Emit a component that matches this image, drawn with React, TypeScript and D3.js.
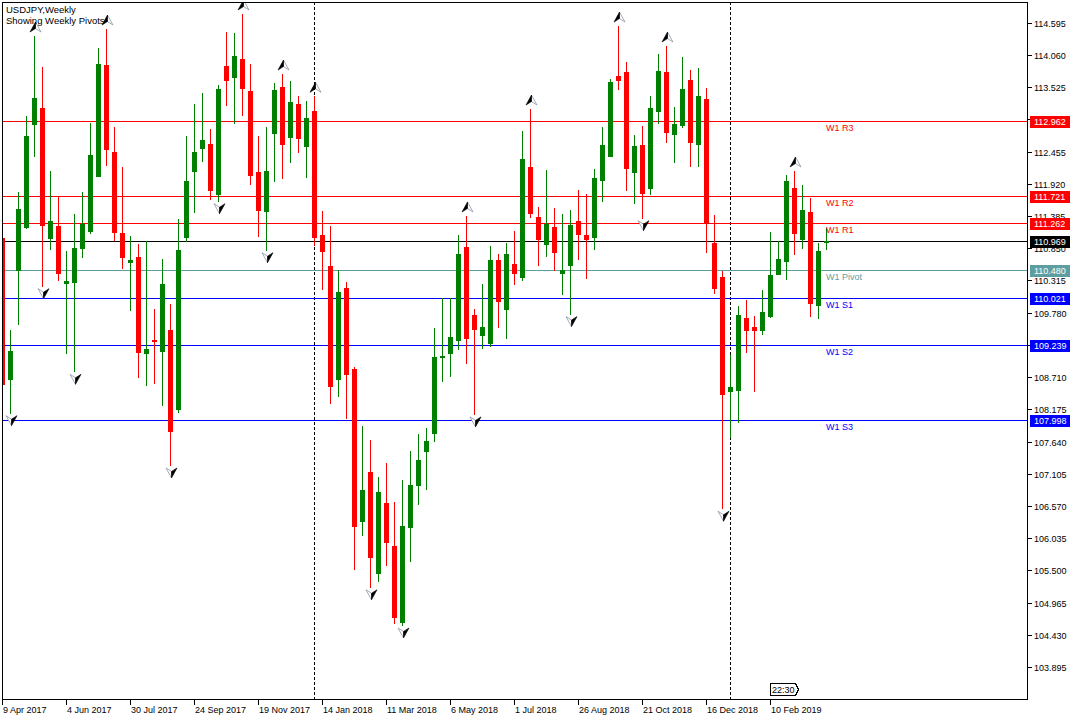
import * as d3 from "d3";

// USDJPY weekly bars, first bar = week of 9 Apr 2017
const opens = [
  111.020, 108.683, 110.488, 111.202, 112.917, 113.178, 111.024, 111.219, 110.272, 110.294,
  110.858, 111.141, 112.054, 113.892, 112.447, 111.102, 110.616, 110.704, 109.115, 109.326,
  109.148, 109.492, 108.185, 111.041, 112.137, 112.519, 112.580, 111.755, 113.875, 113.698,
  113.991, 113.460, 112.115, 111.473, 112.768, 113.527, 112.701, 113.244, 112.552, 113.136,
  111.073, 110.558, 108.683, 110.189, 108.843, 106.327, 107.134, 105.464, 106.620, 105.907,
  104.637, 106.213, 106.925, 107.476, 107.782, 109.044, 109.103, 109.333, 110.870, 109.744,
  109.414, 109.281, 110.659, 109.834, 110.589, 110.374, 112.197, 111.371, 110.913, 111.199,
  110.438, 110.565, 111.302, 111.073, 111.041, 111.982, 112.386, 113.709, 113.776, 112.115,
  112.564, 111.855, 113.133, 113.776, 112.751, 112.901, 113.643, 112.585, 113.327, 110.936,
  110.372, 108.474, 108.501, 109.691, 109.542, 109.497, 109.729, 110.427, 110.638, 111.850,
  111.008, 111.451, 109.912, 110.945,
];
const highs = [
  111.053, 109.492, 111.778, 113.045, 114.373, 113.859, 112.132, 111.722, 110.804, 111.418,
  111.778, 112.929, 114.174, 114.489, 112.862, 112.198, 111.053, 110.920, 110.965, 109.841,
  110.676, 109.924, 111.335, 112.713, 113.244, 113.427, 112.829, 113.560, 114.440, 114.423,
  114.739, 113.908, 112.713, 112.862, 113.593, 113.742, 113.626, 113.377, 113.294, 113.372,
  111.468, 111.225, 110.488, 110.291, 108.881, 107.903, 107.667, 107.051, 107.287, 106.638,
  107.002, 107.483, 107.769, 107.858, 109.529, 110.018, 110.018, 111.073, 111.385, 109.834,
  110.259, 110.882, 110.754, 110.938, 111.129, 112.799, 113.161, 111.536, 112.152, 111.518,
  111.421, 111.484, 111.816, 111.752, 112.165, 112.862, 113.659, 114.539, 113.942, 112.730,
  112.879, 113.377, 114.074, 114.207, 113.195, 114.025, 113.809, 113.842, 113.510, 111.401,
  110.477, 109.077, 109.890, 109.990, 109.729, 110.161, 111.119, 110.965, 112.066, 112.132,
  111.899, 111.684, 110.939, 111.186,
];
const lows = [
  108.562, 108.119, 109.587, 111.186, 112.386, 110.228, 110.842, 110.317, 109.105, 108.806,
  110.709, 111.107, 112.041, 112.236, 110.991, 110.526, 109.829, 108.717, 108.584, 108.617,
  108.247, 107.251, 108.126, 110.975, 111.456, 112.298, 111.667, 111.639, 113.233, 112.934,
  113.067, 111.921, 111.058, 110.825, 111.971, 112.021, 112.286, 112.452, 112.037, 110.895,
  110.176, 108.272, 108.398, 108.036, 105.527, 106.080, 105.228, 105.325, 105.590, 104.626,
  104.594, 105.657, 106.595, 106.860, 107.642, 108.640, 108.735, 109.180, 108.937, 108.099,
  109.198, 109.223, 109.542, 109.351, 110.259, 110.322, 111.371, 110.576, 110.722, 110.488,
  110.095, 109.764, 110.671, 110.360, 110.829, 111.634, 112.373, 113.498, 111.821, 111.606,
  111.357, 111.755, 112.934, 112.618, 112.286, 112.867, 112.220, 112.220, 110.792, 110.106,
  106.532, 107.720, 107.970, 109.132, 108.484, 109.431, 109.716, 110.414, 110.344, 110.759,
  110.858, 109.729, 109.698, 110.842,
];
const closes = [
  108.595, 109.143, 111.501, 112.713, 113.344, 111.240, 111.302, 110.443, 110.306, 110.853,
  111.257, 112.397, 113.908, 112.502, 111.124, 110.709, 110.654, 109.132, 109.177, 109.309,
  110.256, 107.820, 110.820, 111.966, 112.447, 112.647, 111.816, 113.493, 113.648, 114.041,
  113.515, 112.071, 111.489, 112.132, 113.477, 112.585, 113.278, 112.685, 113.012, 111.041,
  110.799, 108.569, 110.126, 108.766, 106.245, 106.836, 105.718, 106.804, 105.979, 104.720,
  106.238, 106.925, 107.337, 107.649, 109.045, 109.060, 109.382, 110.760, 109.364, 109.515,
  109.542, 110.659, 109.974, 110.754, 110.443, 112.323, 111.428, 110.996, 111.250, 110.792,
  110.482, 111.230, 111.079, 111.008, 112.016, 112.564, 113.610, 113.648, 112.187, 112.547,
  111.772, 113.178, 113.792, 112.784, 112.912, 113.493, 112.618, 113.377, 111.290, 110.189,
  108.434, 108.546, 109.741, 109.497, 109.497, 109.791, 110.405, 110.676, 111.966, 111.107,
  111.484, 109.945, 110.803, 110.969,
];

// bill williams fractals (bar indexes)
const upFractals = [4, 13, 30, 35, 39, 58, 66, 77, 83, 99];
const downFractals = [1, 5, 9, 21, 27, 33, 46, 50, 59, 71, 80, 90];

// year separators (first bar of 2018 and 2019)
const separators = [39, 91];

const dateTickBars = [0, 8, 16, 24, 32, 40, 48, 56, 64, 72, 80, 88, 96];
const dateTickLabels = [
  "9 Apr 2017", "4 Jun 2017", "30 Jul 2017", "24 Sep 2017", "19 Nov 2017", "14 Jan 2018",
  "11 Mar 2018", "6 May 2018", "1 Jul 2018", "26 Aug 2018", "21 Oct 2018", "16 Dec 2018", "10 Feb 2019",
];

const priceTicks = [
  114.595, 114.060, 113.525, 112.990, 112.455, 111.920, 111.385, 110.850, 110.315, 109.780,
  109.245, 108.710, 108.175, 107.640, 107.105, 106.570, 106.035, 105.500, 104.965, 104.430, 103.895,
];

const pivotNames = ["W1 R3", "W1 R2", "W1 R1", "W1 Pivot", "W1 S1", "W1 S2", "W1 S3"];
const pivotLevels = [112.962, 111.721, 111.262, 110.480, 110.021, 109.239, 107.998];
const pivotColors = ["#ff0000", "#ff0000", "#ff0000", "#5f9ea0", "#0000ff", "#0000ff", "#0000ff"];

const lastPrice = 110.969;
const BULL = "#008000";
const BEAR = "#ff0000";
const FONT = "'Liberation Sans', Arial, sans-serif";

export default function App() {
  const W = 1080, H = 720;
  const L = 2, T = 2, R = 1027, B = 699;

  const x = d3.scaleLinear().domain([0, 1]).range([2, 10]); // 8px per bar
  const y = d3.scaleLinear().domain([103.365, 114.938]).range([B, T]);
  const py = (p: number) => Math.round(y(p));
  const fmt = d3.format(".3f");
  const lastIdx = closes.length - 1;

  // grid labels that sit right under a price box are not drawn (hidden in terminal)
  const boxed = [...pivotLevels, lastPrice];
  const shownTicks = priceTicks.filter((v) => !boxed.some((p) => Math.abs(py(p) - py(v)) < 4));

  const arrowUp = (cx: number, top: number) => ({
    dark: `M${cx},${top} L${cx - 5.5},${top + 10} L${cx},${top + 6.5} Z`,
    light: `M${cx},${top} L${cx},${top + 6.5} L${cx + 5.5},${top + 10} Z`,
  });
  const arrowDown = (cx: number, bot: number) => ({
    dark: `M${cx},${bot} L${cx + 5.5},${bot - 10} L${cx},${bot - 6.5} Z`,
    light: `M${cx},${bot} L${cx},${bot - 6.5} L${cx - 5.5},${bot - 10} Z`,
  });

  return (
    <svg
      width={W}
      height={H}
      style={{ position: "absolute", left: 0, top: 0, background: "#fff" }}
      fontFamily={FONT}
    >
      <defs>
        <clipPath id="plot">
          <rect x={L + 1} y={T + 1} width={R - L - 1} height={B - T - 1} />
        </clipPath>
      </defs>
      <rect width={W} height={H} fill="#fff" />

      <g clipPath="url(#plot)" shapeRendering="crispEdges">
        {separators.map((i) => (
          <line key={i} x1={x(i) + 0.5} x2={x(i) + 0.5} y1={T} y2={B} stroke="#000" strokeDasharray="3,2" />
        ))}

        {pivotLevels.map((p, k) => (
          <rect key={k} x={L} y={py(p)} width={R - L} height={1} fill={pivotColors[k]} />
        ))}
        <rect x={L} y={py(lastPrice)} width={R - L} height={1} fill="#000" />

        {closes.map((c, i) => {
          const o = opens[i];
          const col = c >= o ? BULL : BEAR;
          const cx = x(i);
          const top = py(Math.max(o, c));
          const bot = py(Math.min(o, c));
          return (
            <g key={i} fill={col}>
              <rect x={cx} y={py(highs[i])} width={1} height={py(lows[i]) - py(highs[i]) + 1} />
              <rect x={cx - 2} y={top} width={5} height={Math.max(1, bot - top + 1)} />
            </g>
          );
        })}
      </g>

      <g clipPath="url(#plot)">
        {upFractals.map((i) => {
          const a = arrowUp(x(i) + 1.5, y(highs[i]) - 14);
          return (
            <g key={"u" + i}>
              <path d={a.light} fill="#fff" stroke="#8a96a8" strokeWidth={0.8} />
              <path d={a.dark} fill="#000" stroke="#000" strokeWidth={0.6} />
            </g>
          );
        })}
        {downFractals.map((i) => {
          const a = arrowDown(x(i) + 1.5, y(lows[i]) + 13);
          return (
            <g key={"d" + i}>
              <path d={a.light} fill="#fff" stroke="#8a96a8" strokeWidth={0.8} />
              <path d={a.dark} fill="#000" stroke="#000" strokeWidth={0.6} />
            </g>
          );
        })}

        {pivotLevels.map((p, k) => (
          <text key={k} x={x(lastIdx)} y={py(p) + 9.5} fontSize={9} fill={pivotColors[k]}>
            {pivotNames[k]}
          </text>
        ))}
      </g>

      {/* title */}
      <text x={6} y={12.5} fontSize={9.5} fill="#000">USDJPY,Weekly</text>
      <text x={6} y={23.5} fontSize={9.5} fill="#000">Showing Weekly Pivots</text>

      {/* frame */}
      <rect x={L + 0.5} y={T + 0.5} width={R - L} height={B - T} fill="none" stroke="#000" shapeRendering="crispEdges" />

      {/* price axis */}
      {priceTicks.map((v) => (
        <rect key={v} x={R} y={py(v)} width={5} height={1} fill="#000" shapeRendering="crispEdges" />
      ))}
      {shownTicks.map((v) => (
        <text key={v} x={1034} y={py(v) + 3.5} fontSize={9} fill="#000">{fmt(v)}</text>
      ))}

      {pivotLevels.map((p, k) => (
        <g key={"b" + k}>
          <rect x={1030} y={py(p) - 5} width={40} height={12} fill={pivotColors[k]} shapeRendering="crispEdges" />
          <text x={1034} y={py(p) + 4} fontSize={9} fill="#fff">{fmt(p)}</text>
        </g>
      ))}
      <rect x={1030} y={py(lastPrice) - 5} width={40} height={12} fill="#000" shapeRendering="crispEdges" />
      <text x={1034} y={py(lastPrice) + 4} fontSize={9} fill="#fff">{fmt(lastPrice)}</text>

      {/* time axis */}
      {dateTickBars.map((b, k) => (
        <g key={b}>
          <rect x={x(b)} y={B} width={1} height={6} fill="#000" shapeRendering="crispEdges" />
          <text x={x(b) + 1} y={712.5} fontSize={9} fill="#000">{dateTickLabels[k]}</text>
        </g>
      ))}

      {/* time-to-close label */}
      <g>
        <path
          d={`M${x(96) + 0.5},683.5 H${x(96) + 25.5} L${x(96) + 28.5},689.5 L${x(96) + 25.5},695.5 H${x(96) + 0.5} Z`}
          fill="#fff"
          stroke="#000"
          shapeRendering="crispEdges"
        />
        <text x={x(96) + 2} y={693} fontSize={9} fill="#000">22:30</text>
      </g>
    </svg>
  );
}
